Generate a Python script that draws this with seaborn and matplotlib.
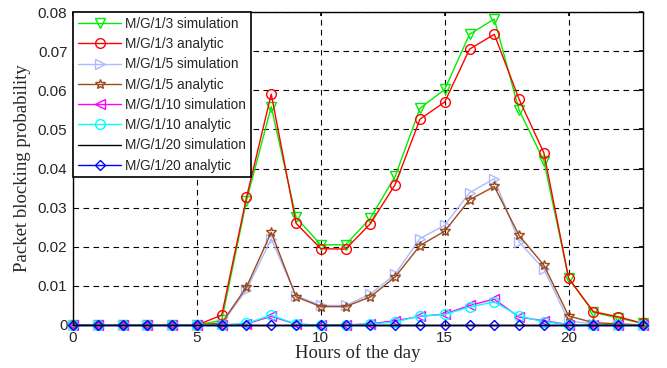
import numpy as np
import pandas as pd
import matplotlib
matplotlib.use("Agg")
import matplotlib.pyplot as plt
import seaborn as sns

hours = list(range(24))
g3_sim = [0, 0, 0, 0, 0, 0, 0.0012, 0.0318, 0.0558, 0.0275, 0.0205, 0.0205, 0.0273, 0.0380,
          0.0554, 0.0602, 0.0743, 0.0782, 0.0549, 0.0420, 0.0119, 0.0032, 0.0018, 0.0004]
g3_ana = [0, 0, 0, 0, 0, 0, 0.0025, 0.0326, 0.0590, 0.0260, 0.0195, 0.0194, 0.0259, 0.0359,
          0.0526, 0.0570, 0.0705, 0.0743, 0.0577, 0.0440, 0.0119, 0.0034, 0.0021, 0.0004]
g5_sim = [0, 0, 0, 0, 0, 0, 0.0003, 0.0090, 0.0220, 0.0075, 0.0050, 0.0050, 0.0079, 0.0130,
          0.0221, 0.0255, 0.0338, 0.0374, 0.0212, 0.0143, 0.0010, 0.0003, 0.0001, 0]
g5_ana = [0, 0, 0, 0, 0, 0, 0.0005, 0.0097, 0.0237, 0.0072, 0.0047, 0.0047, 0.0072, 0.0123,
          0.0203, 0.0240, 0.0320, 0.0354, 0.0229, 0.0153, 0.0023, 0.0006, 0.0003, 0]
g10_sim = [0, 0, 0, 0, 0, 0, 0, 0.0003, 0.0022, 0.0002, 0, 0, 0.0003, 0.0011,
           0.0022, 0.0028, 0.0050, 0.0066, 0.0020, 0.0011, 0.0001, 0, 0, 0]
g10_ana = [0, 0, 0, 0, 0, 0, 0, 0.0004, 0.0025, 0.0002, 0, 0, 0.0002, 0.0008,
           0.0023, 0.0027, 0.0046, 0.0059, 0.0023, 0.0008, 0.0001, 0, 0, 0]
g20_sim = [0] * 24
g20_ana = [0] * 24

labels = ["M/G/1/3 simulation", "M/G/1/3 analytic", "M/G/1/5 simulation", "M/G/1/5 analytic",
          "M/G/1/10 simulation", "M/G/1/10 analytic", "M/G/1/20 simulation", "M/G/1/20 analytic"]
series = [g3_sim, g3_ana, g5_sim, g5_ana, g10_sim, g10_ana, g20_sim, g20_ana]
colors = ["#00ee00", "#ff0000", "#aabbff", "#9c4a1a", "#ff00ff", "#00ffff", "#000000", "#0000ff"]
markers = ["v", "o", ">", "*", "<", "o", None, "D"]
msizes = [7, 7, 7, 7, 7, 7, 0, 5]

sns.set_theme(style="white")
plt.rcParams['font.family'] = ['Liberation Sans', 'DejaVu Sans']

fig = plt.figure(figsize=(6.67, 3.68), dpi=100)
ax = fig.add_axes([73/667, 1-325/368, 570/667, 313/368])

for lab, vals, c, m, ms in zip(labels, series, colors, markers, msizes):
    kw = {}
    if m is not None:
        kw = dict(marker=m, markersize=ms, markerfacecolor='none', markeredgecolor=c, markeredgewidth=1)
    sns.lineplot(x=hours, y=vals, color=c, linewidth=1, label=lab, ax=ax, clip_on=False, **kw)

ax.set_xlim(0, 23)
ax.set_ylim(0, 0.08)
ax.set_xticks([0, 5, 10, 15, 20])
ax.set_yticks(np.arange(0, 0.081, 0.01))
ax.set_yticklabels(["0", "0.01", "0.02", "0.03", "0.04", "0.05", "0.06", "0.07", "0.08"])
ax.grid(True, color="black", linestyle=(0, (5, 4)), linewidth=0.8)
ax.tick_params(direction="in", top=True, right=True, length=3, labelsize=11, color="black", pad=4)
for s in ax.spines.values():
    s.set_color("black")
    s.set_linewidth(1)
ax.set_xlabel("Hours of the day", family=["Liberation Serif"], fontsize=13.5, labelpad=0)
ax.set_ylabel("Packet blocking probability", family=["Liberation Serif"], fontsize=13.5, labelpad=5)

leg = ax.legend(loc="upper left", fontsize=9.8, frameon=True, fancybox=False, borderaxespad=0,
                handlelength=3.2, handletextpad=0.3, labelspacing=0.46, borderpad=0.35)
leg.get_frame().set_edgecolor("black")
leg.get_frame().set_linewidth(1.2)
leg.get_frame().set_alpha(1)

fig.savefig("out.png", dpi=100)
